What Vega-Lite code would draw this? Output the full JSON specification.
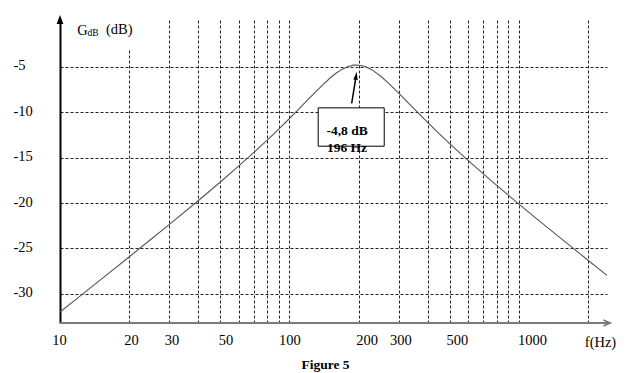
{
  "$schema": "https://vega.github.io/schema/vega-lite/v6.json",
  "width": 547,
  "height": 303,
  "autosize": {"type": "none"},
  "padding": {"left": 60, "top": 20, "right": 22, "bottom": 50},
  "background": "white",
  "config": {"view": {"stroke": null}, "font": "Liberation Serif"},
  "title": {"text": "Figure 5", "orient": "bottom", "fontSize": 13.5, "fontWeight": "bold", "font": "Liberation Serif", "color": "black", "offset": 9, "anchor": "middle", "dx": -8, "baseline": "top"},
  "datasets": {
    "curve": [
      {"f": 10, "db": -31.99}, {"f": 12, "db": -30.41}, {"f": 15, "db": -28.46}, {"f": 20, "db": -25.93},
      {"f": 25, "db": -23.96}, {"f": 30, "db": -22.34}, {"f": 40, "db": -19.74}, {"f": 50, "db": -17.68},
      {"f": 60, "db": -15.94}, {"f": 70, "db": -14.42}, {"f": 80, "db": -13.07}, {"f": 90, "db": -11.83},
      {"f": 100, "db": -10.69}, {"f": 110, "db": -9.63}, {"f": 120, "db": -8.65}, {"f": 130, "db": -7.76},
      {"f": 140, "db": -6.96}, {"f": 150, "db": -6.26}, {"f": 160, "db": -5.69}, {"f": 170, "db": -5.26},
      {"f": 180, "db": -4.97}, {"f": 190, "db": -4.82}, {"f": 196, "db": -4.8}, {"f": 205, "db": -4.85},
      {"f": 215, "db": -5.0}, {"f": 230, "db": -5.37}, {"f": 250, "db": -6.04}, {"f": 270, "db": -6.79},
      {"f": 300, "db": -7.93}, {"f": 330, "db": -8.99}, {"f": 360, "db": -9.97}, {"f": 400, "db": -11.13},
      {"f": 450, "db": -12.39}, {"f": 500, "db": -13.48}, {"f": 600, "db": -15.31}, {"f": 700, "db": -16.79},
      {"f": 800, "db": -18.05}, {"f": 1000, "db": -20.11}, {"f": 1200, "db": -21.76}, {"f": 1500, "db": -23.75},
      {"f": 2000, "db": -26.29}, {"f": 2420, "db": -27.96}
    ],
    "one": [{}]
  },
  "layer": [
    {
      "data": {"name": "curve"},
      "mark": {"type": "line", "color": "#555555", "strokeWidth": 1.1},
      "encoding": {
        "x": {
          "field": "f", "type": "quantitative",
          "scale": {"type": "log", "domain": [10, 2420], "nice": false},
          "axis": {
            "values": [10, 20, 30, 40, 50, 60, 70, 80, 90, 100, 200, 300, 400, 500, 600, 700, 800, 900, 1000, 2000],
            "format": "d",
            "labelExpr": "(datum.value == 10 || datum.value == 20 || datum.value == 30 || datum.value == 50 || datum.value == 100 || datum.value == 200 || datum.value == 300 || datum.value == 500 || datum.value == 1000) ? datum.label : ''",
            "labelOverlap": false, "labelFlush": false,
            "grid": true, "gridDash": [3, 2], "gridColor": "#222222", "gridWidth": 1, "gridOpacity": 1,
            "domain": false, "ticks": false, "tickSize": 0,
            "labelFont": "Liberation Serif", "labelFontSize": 14.5, "labelColor": "black", "labelPadding": 10,
            "labelOffset": {"expr": "datum.value == 10 ? -1 : datum.value == 20 ? 2 : datum.value == 30 ? 2 : datum.value == 50 ? 5 : datum.value == 200 ? 8 : datum.value == 300 ? 1.5 : datum.value == 500 ? 7 : datum.value == 1000 ? 13 : 0"},
            "title": "f(Hz)", "titleFont": "Liberation Serif", "titleFontSize": 14.5, "titleFontWeight": "normal", "titleColor": "black",
            "titleX": 540, "titleY": 19, "titleAlign": "center", "titleBaseline": "middle"
          }
        },
        "y": {
          "field": "db", "type": "quantitative",
          "scale": {"domain": [-33.2, 0.15], "nice": false, "zero": false},
          "axis": {
            "values": [-30, -25, -20, -15, -10, -5],
            "labelExpr": "'' + datum.value",
            "grid": true, "gridDash": [3, 2], "gridColor": "#222222", "gridWidth": 1, "gridOpacity": 1,
            "domain": true, "domainColor": "black", "domainWidth": 2,
            "ticks": false, "tickSize": 0,
            "labelAlign": "left", "labelBaseline": "middle", "labelPadding": 47, "labelOffset": -1,
            "labelFont": "Liberation Serif", "labelFontSize": 14.5, "labelColor": "black",
            "title": "G", "titleAngle": 0, "titleX": 16.7, "titleY": 10, "titleAlign": "left", "titleBaseline": "middle",
            "titleFont": "Liberation Serif", "titleFontSize": 14.5, "titleFontWeight": "normal", "titleColor": "black"
          }
        }
      }
    },
    {
      "data": {"name": "one"},
      "mark": {"type": "rect", "fill": "white", "strokeWidth": 0},
      "encoding": {"x": {"datum": 18.25}, "x2": {"datum": 21.01}, "y": {"datum": 0.15}, "y2": {"datum": -3.15}}
    },
    {
      "data": {"name": "one"},
      "mark": {"type": "rule", "color": "#7a7a7a", "strokeWidth": 2},
      "encoding": {"x": {"datum": 10}, "x2": {"datum": 2480}, "y": {"datum": -33.2}}
    },
    {
      "data": {"name": "one"},
      "mark": {"type": "point", "shape": "M-1,-0.85L1,0L-1,0.85", "filled": false, "stroke": "#7a7a7a", "strokeWidth": 1.5, "size": 49, "opacity": 1},
      "encoding": {"x": {"datum": 2417}, "y": {"datum": -33.2}}
    },
    {
      "data": {"name": "one"},
      "mark": {"type": "point", "shape": "M0,-1L0.75,1L-0.75,1Z", "filled": true, "fill": "black", "strokeWidth": 0, "size": 81, "opacity": 1},
      "encoding": {"x": {"datum": 10}, "y": {"datum": 0.205}}
    },
    {
      "data": {"name": "one"},
      "mark": {"type": "rect", "fill": "white", "stroke": "black", "strokeWidth": 1},
      "encoding": {"x": {"datum": 133.4}, "x2": {"datum": 258.8}, "y": {"datum": -9.52}, "y2": {"datum": -13.74}}
    },
    {
      "data": {"name": "one"},
      "mark": {"type": "text", "text": "-4,8 dB\n196 Hz", "lineBreak": "\n", "lineHeight": 17.6, "font": "Liberation Serif", "fontSize": 13.5, "fontWeight": "bold", "align": "center", "baseline": "middle", "color": "black"},
      "encoding": {"x": {"datum": 178.2}, "y": {"datum": -12.03}}
    },
    {
      "data": {"name": "one"},
      "mark": {"type": "rule", "color": "black", "strokeWidth": 1.5},
      "encoding": {"x": {"datum": 186.7}, "y": {"datum": -9.03}, "x2": {"datum": 195.2}, "y2": {"datum": -5.99}}
    },
    {
      "data": {"name": "one"},
      "mark": {"type": "point", "shape": "M0,-1L0.55,1L-0.55,1Z", "filled": true, "fill": "black", "strokeWidth": 0, "size": 64, "angle": 9, "opacity": 1},
      "encoding": {"x": {"datum": 195.2}, "y": {"datum": -5.99}}
    },
    {
      "data": {"name": "one"},
      "mark": {"type": "text", "text": "dB", "font": "Liberation Serif", "fontSize": 9.5, "align": "left", "baseline": "middle", "color": "black"},
      "encoding": {"x": {"datum": 13.18}, "y": {"datum": -1.28}}
    },
    {
      "data": {"name": "one"},
      "mark": {"type": "text", "text": "(dB)", "font": "Liberation Serif", "fontSize": 14.5, "align": "left", "baseline": "middle", "color": "black"},
      "encoding": {"x": {"datum": 15.87}, "y": {"datum": -0.95}}
    }
  ]
}
